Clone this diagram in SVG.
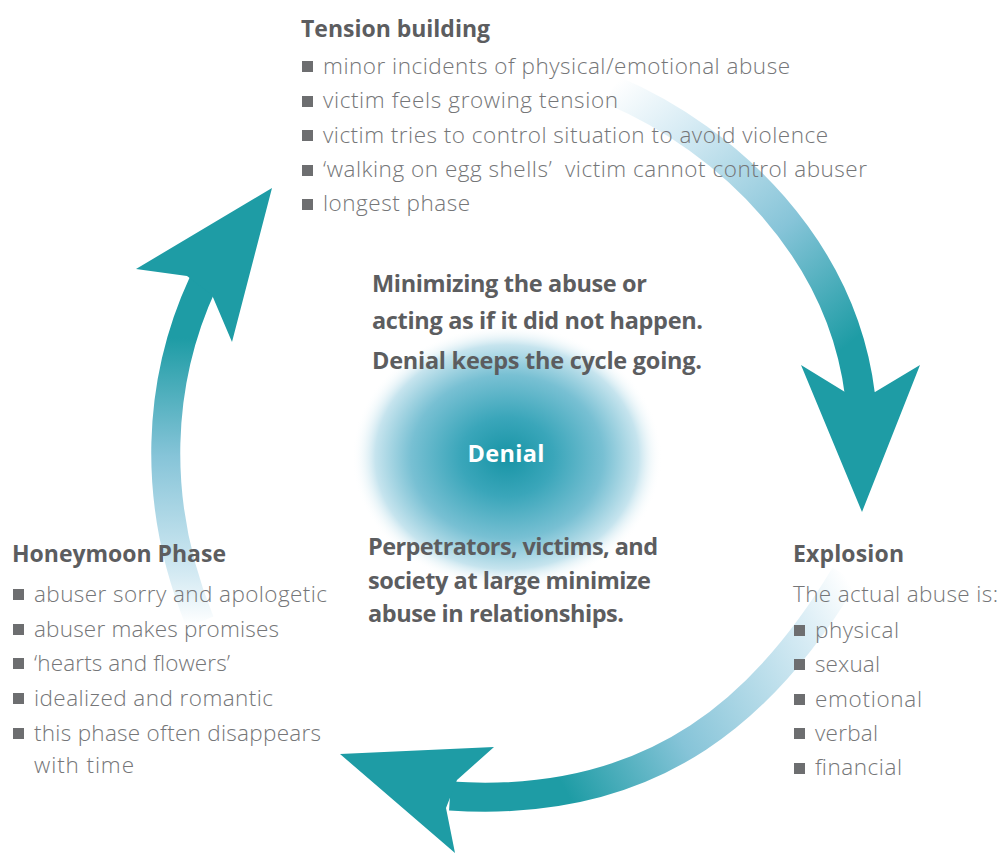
<svg xmlns="http://www.w3.org/2000/svg" width="1000" height="855" viewBox="0 0 1000 855">
<defs>
<style>
.reg{font-family:"Open Sans","Liberation Sans",sans-serif;font-size:22.5px;font-weight:300;fill:#757678}
.bold{font-family:"Open Sans","Liberation Sans",sans-serif;font-size:23.5px;font-weight:700;fill:#5c5d5f}
.head{font-family:"Open Sans","Liberation Sans",sans-serif;font-size:23px;font-weight:700;fill:#5c5d5f}
.bul{fill:#6d6e70}
.tealhead{fill:#1e9ca5}
</style>
<radialGradient id="blob" cx="0.5" cy="0.5" r="0.5">
<stop offset="0" stop-color="#1794a5"/>
<stop offset="0.3" stop-color="#3aa6ba"/>
<stop offset="0.62" stop-color="#78c0d3"/>
<stop offset="0.85" stop-color="#c6e4ee"/>
<stop offset="1" stop-color="#ffffff" stop-opacity="0"/>
</radialGradient>
<linearGradient id="g1" gradientUnits="userSpaceOnUse" x1="610" y1="88" x2="862" y2="395">
<stop offset="0" stop-color="#ffffff"/>
<stop offset="0.2" stop-color="#d6ebf4"/>
<stop offset="0.55" stop-color="#86c4d8"/>
<stop offset="0.88" stop-color="#1e9ca5"/>
<stop offset="1" stop-color="#1e9ca5"/>
</linearGradient>
<linearGradient id="g2" gradientUnits="userSpaceOnUse" x1="845" y1="575" x2="455" y2="795">
<stop offset="0" stop-color="#ffffff"/>
<stop offset="0.15" stop-color="#d6ebf4"/>
<stop offset="0.5" stop-color="#86c4d8"/>
<stop offset="0.78" stop-color="#1e9ca5"/>
<stop offset="1" stop-color="#1e9ca5"/>
</linearGradient>
<linearGradient id="g3" gradientUnits="userSpaceOnUse" x1="200" y1="625" x2="205" y2="288">
<stop offset="0" stop-color="#ffffff"/>
<stop offset="0.15" stop-color="#d4eaf3"/>
<stop offset="0.5" stop-color="#86c4d8"/>
<stop offset="0.85" stop-color="#1e9ca5"/>
<stop offset="1" stop-color="#1e9ca5"/>
</linearGradient>
</defs>
<rect width="1000" height="855" fill="#ffffff"/>

<g id="connectors">
<g id="arrow-tension-to-explosion">
<path d="M 612 90 C 730 140 842 250 860 395" fill="none" stroke="url(#g1)" stroke-width="30"/>
<polygon class="tealhead" points="801,365 845,392 875,392 920,365 862,512"/>
</g>
<g id="arrow-explosion-to-honeymoon">
<path d="M 845 575 C 770 700 660 810 450 796" fill="none" stroke="url(#g2)" stroke-width="29"/>
<polygon class="tealhead" points="340,754 494,747 457,780 446,808 455,853"/>
</g>
<g id="arrow-honeymoon-to-tension">
<path d="M 200 622 C 150 500 158 380 203 283" fill="none" stroke="url(#g3)" stroke-width="29"/>
<polygon class="tealhead" points="272,188 136,269 187,276 212,295 232,342"/>
</g>
</g>

<g id="denial">
<ellipse cx="507" cy="457" rx="155" ry="132" fill="url(#blob)"/>
<text x="506" y="462" text-anchor="middle" font-family="Open Sans, Liberation Sans, sans-serif" font-size="23.5" font-weight="700" fill="#ffffff" textLength="77">Denial</text>
</g>

<g id="tension-building">
<text class="head" x="301" y="37" textLength="189">Tension building</text>
<rect class="bul" x="302" y="61" width="11" height="11"/>
<text class="reg" x="323" y="74" textLength="467">minor incidents of physical/emotional abuse</text>
<rect class="bul" x="302" y="96" width="11" height="11"/>
<text class="reg" x="323" y="108" textLength="295">victim feels growing tension</text>
<rect class="bul" x="302" y="130" width="11" height="11"/>
<text class="reg" x="323" y="143" textLength="505">victim tries to control situation to avoid violence</text>
<rect class="bul" x="302" y="165" width="11" height="11"/>
<text class="reg" x="323" y="177" textLength="544" xml:space="preserve">‘walking on egg shells’  victim cannot control abuser</text>
<rect class="bul" x="302" y="199" width="11" height="11"/>
<text class="reg" x="323" y="211" textLength="147">longest phase</text>
</g>

<g id="denial-notes">
<text class="bold" x="372" y="292" textLength="275">Minimizing the abuse or</text>
<text class="bold" x="372" y="329" textLength="331">acting as if it did not happen.</text>
<text class="bold" x="372" y="369" textLength="330">Denial keeps the cycle going.</text>
<text class="bold" x="368" y="555" textLength="290">Perpetrators, victims, and</text>
<text class="bold" x="368" y="589" textLength="283">society at large minimize</text>
<text class="bold" x="368" y="622" textLength="256">abuse in relationships.</text>
</g>

<g id="honeymoon-phase">
<text class="head" x="12" y="562" textLength="214">Honeymoon Phase</text>
<rect class="bul" x="13" y="589" width="11" height="11"/>
<text class="reg" x="34" y="602" textLength="293">abuser sorry and apologetic</text>
<rect class="bul" x="13" y="624" width="11" height="11"/>
<text class="reg" x="34" y="637" textLength="245">abuser makes promises</text>
<rect class="bul" x="13" y="658" width="11" height="11"/>
<text class="reg" x="34" y="671" textLength="196">‘hearts and flowers’</text>
<rect class="bul" x="13" y="693" width="11" height="11"/>
<text class="reg" x="34" y="706" textLength="239">idealized and romantic</text>
<rect class="bul" x="13" y="728" width="11" height="11"/>
<text class="reg" x="34" y="741" textLength="287">this phase often disappears</text>
<text class="reg" x="34" y="773" textLength="100">with time</text>
</g>

<g id="explosion">
<text class="head" x="793" y="562" textLength="111">Explosion</text>
<text class="reg" x="793" y="602" textLength="205">The actual abuse is:</text>
<rect class="bul" x="794" y="625" width="11" height="11"/>
<text class="reg" x="815" y="638" textLength="84">physical</text>
<rect class="bul" x="794" y="659" width="11" height="11"/>
<text class="reg" x="815" y="672" textLength="65">sexual</text>
<rect class="bul" x="794" y="694" width="11" height="11"/>
<text class="reg" x="815" y="707" textLength="107">emotional</text>
<rect class="bul" x="794" y="728" width="11" height="11"/>
<text class="reg" x="815" y="741" textLength="63">verbal</text>
<rect class="bul" x="794" y="763" width="11" height="11"/>
<text class="reg" x="815" y="775" textLength="87">financial</text>
</g>
</svg>
